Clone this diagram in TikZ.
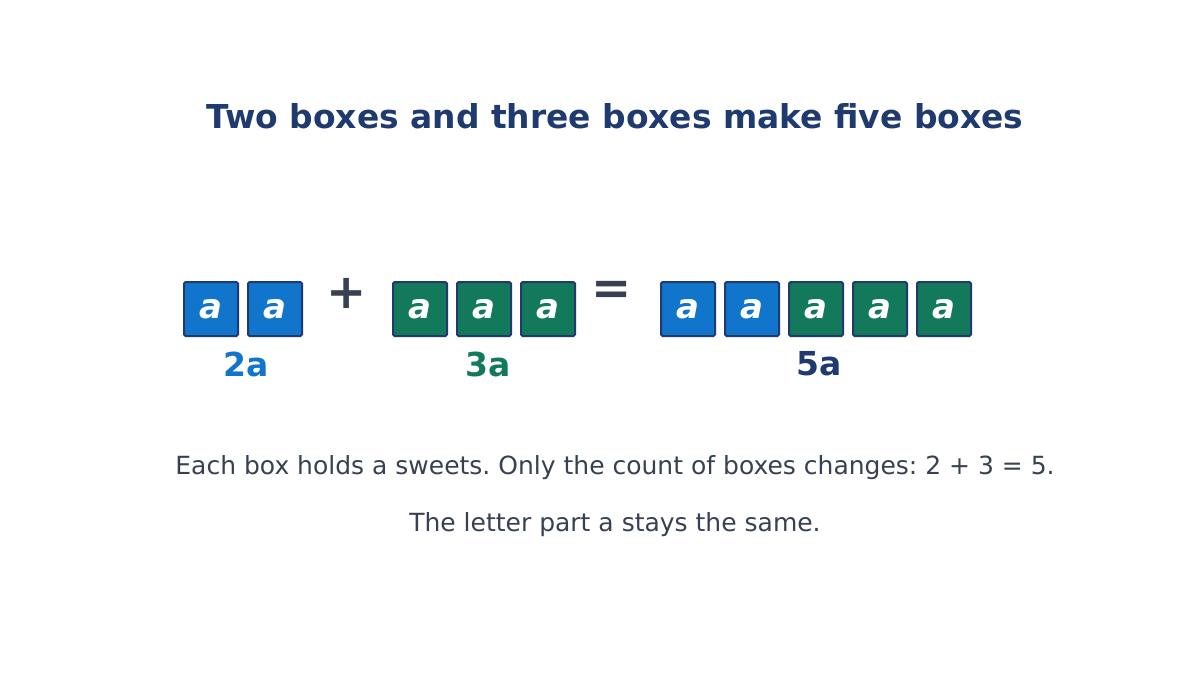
\documentclass[tikz,border=0pt]{standalone}
\usepackage{fontspec}
\setmainfont{DejaVu Sans}
\frenchspacing
\definecolor{navy}{HTML}{1E3A6E}
\definecolor{bblue}{HTML}{1275CC}
\definecolor{bgreen}{HTML}{127A5A}
\definecolor{txtgray}{HTML}{374151}
\tikzset{
  abox/.style={draw=navy, line width=2bp, rounded corners=1.5bp, minimum width=54bp, minimum height=54bp, inner sep=0pt, text=white, font=\fontsize{34bp}{34bp}\selectfont\bfseries\itshape},
  bluebox/.style={abox, fill=bblue},
  greenbox/.style={abox, fill=bgreen},
  lbl/.style={font=\fontsize{33bp}{33bp}\selectfont\bfseries, inner sep=0pt},
  op/.style={font=\fontsize{48bp}{48bp}\selectfont\bfseries, text=txtgray, inner sep=0pt},
  body/.style={font=\fontsize{25bp}{25bp}\selectfont, text=txtgray, inner sep=0pt}
}
\begin{document}
\begin{tikzpicture}[x=1bp,y=-1bp]
\useasboundingbox (0,0) rectangle (1200,675);
\fill[white] (0,0) rectangle (1200,675);
\node[font=\fontsize{32.9bp}{32.9bp}\selectfont\bfseries, text=navy, inner sep=0pt] (title) at (615,116) {Two boxes and three boxes make five boxes};
% left group
\node[bluebox] (l1) at (211,309) {a};
\node[bluebox] (l2) at (275,309) {a};
\node[op] (plus) at (347,293) {+};
\node[greenbox] (m1) at (420,309) {a};
\node[greenbox] (m2) at (484,309) {a};
\node[greenbox] (m3) at (548,309) {a};
\node[op] (eq) at (612,293) {=};
\node[bluebox] (r1) at (688,309) {a};
\node[bluebox] (r2) at (752,309) {a};
\node[greenbox] (r3) at (816,309) {a};
\node[greenbox] (r4) at (880,309) {a};
\node[greenbox] (r5) at (944,309) {a};
\node[lbl, text=bblue] (two) at (246,364) {2a};
\node[lbl, text=bgreen] (three) at (488,364) {3a};
\node[lbl, text=navy] (five) at (819,364) {5a};
\node[body] (line1) at (615,467.5) {Each box holds a sweets. Only the count of boxes changes: 2 + 3 = 5.};
\node[body] (line2) at (615,524.5) {The letter part a stays the same.};
\end{tikzpicture}
\end{document}
